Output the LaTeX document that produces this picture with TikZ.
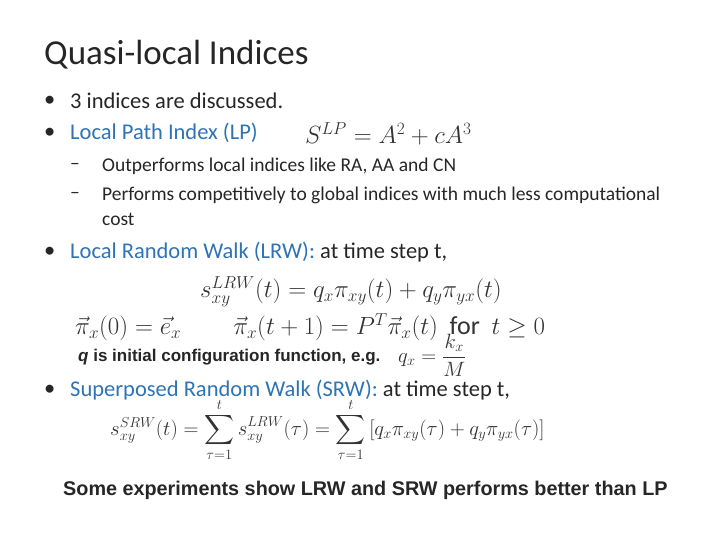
\documentclass[tikz,border=0pt]{standalone}
\usepackage{amsmath}
\usepackage{fontspec}
\setmainfont{Carlito}
\newfontfamily\arialf{Liberation Sans}
\definecolor{tx}{HTML}{262626}
\definecolor{bl}{HTML}{2E74B5}
\definecolor{fm}{HTML}{333333}
\begin{document}
\begin{tikzpicture}[x=1pt,y=-1pt,
  every node/.style={inner sep=0,anchor=west,text=tx},
  big/.style={font=\fontsize{22.5}{26}\selectfont},
  sub/.style={font=\fontsize{19.5}{23}\selectfont},
  fml/.style={text=fm,font=\fontsize{21.5}{25}\selectfont},
  fmlL/.style={text=fm,font=\fontsize{25}{29}\selectfont},
  arb/.style={font=\arialf\bfseries\fontsize{17}{20}\selectfont},
  arc/.style={font=\arialf\bfseries\fontsize{19.8}{23}\selectfont}]
\path[use as bounding box] (0,0) rectangle (720,540);
\node[font=\fontsize{35}{40}\selectfont] (title) at (44,55) {Quasi-local Indices};
\node[big] (b1d) at (44,101) {\textbullet};
\node[big] (b1) at (70,101) {3 indices are discussed.};
\node[big] (b2d) at (44,133) {\textbullet};
\node[big,text=bl] (b2) at (70,133) {Local Path Index (LP)};
\node[fmlL] (f1) at (305,134) {$S^{LP}=A^2+cA^3$};
\node[sub] (s1d) at (70,166) {--};
\node[sub] (s1) at (102,166) {Outperforms local indices like RA, AA and CN};
\node[sub] (s2d) at (70,195) {--};
\node[sub] (s2) at (102,195) {Performs competitively to global indices with much less computational};
\node[sub] (s2b) at (102,219) {cost};
\node[big] (b3d) at (44,252) {\textbullet};
\node[big] (b3) at (70,252) {\textcolor{bl}{Local Random Walk (LRW):} at time step t,};
\node[fmlL] (f2) at (200,292) {$s_{xy}^{LRW}(t)=q_x\pi_{xy}(t)+q_y\pi_{yx}(t)$};
\node[fmlL,font=\fontsize{26}{30}\selectfont] (f3) at (75,327) {$\vec{\pi}_x(0)=\vec{e}_x\qquad\vec{\pi}_x(t+1)=P^T\vec{\pi}_x(t)\ \ \text{for}\ \ t\geq 0$};
\node[fml] (f4) at (398,355) {$q_x=\dfrac{k_x}{M}$};
\node[arb] (q) at (78,357) {\textit{q} is initial configuration function, e.g.};
\node[big] (b4d) at (44,390) {\textbullet};
\node[big] (b4) at (70,390) {\textcolor{bl}{Superposed Random Walk (SRW):} at time step t,};
\node[fml] (f5) at (110,430) {$s_{xy}^{SRW}(t)=\displaystyle\sum_{\tau=1}^{t}s_{xy}^{LRW}(\tau)=\sum_{\tau=1}^{t}\left[q_x\pi_{xy}(\tau)+q_y\pi_{yx}(\tau)\right]$};
\node[arc] (c) at (63,490) {Some experiments show LRW and SRW performs better than LP};
\end{tikzpicture}
\end{document}
